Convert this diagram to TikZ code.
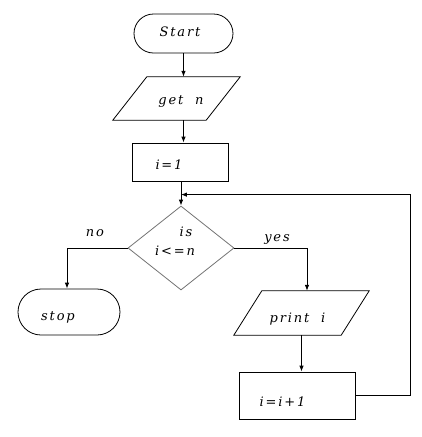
\documentclass[tikz,border=0pt]{standalone}
\usepackage{fontspec}
\usepackage{tikz}
\usetikzlibrary{calc, arrows.meta, shapes, shapes.geometric, shapes.misc, positioning}
\newfontfamily\chartfont[LetterSpace=14]{DejaVu Serif}
\tikzset{
    termnode/.style = {draw, rounded rectangle, inner sep = 1pt, node distance=0em, line width=0.8pt},
    boxnode/.style = {draw, rectangle, inner sep = 1pt, node distance=0em, line width=0.8pt},
    ionode/.style = {draw=none, rectangle, inner sep = 0em, node distance=0em},
    decnode/.style = {draw=black!55, diamond, inner sep = 1pt, node distance=0em, line width=0.8pt},
    textnode/.style  = {draw=none, fill=none, rectangle, inner sep = 0em, anchor=base,
      node distance=0em, font=\chartfont\itshape\fontsize{13}{15}\selectfont},
    connect/.style = {black, line width=0.8pt, -{Latex[length=6pt, width=4.5pt]}},
    plain/.style = {black, line width=0.8pt, line join=miter}
}
\newcommand{\slantbox}[2]{\draw [plain] ([xshift=-#2]#1.south west) -- ([xshift=#2]#1.north west)
  -- ([xshift=#2]#1.north east) -- ([xshift=-#2]#1.south east) -- cycle;}

\begin{document}
\begin{tikzpicture}
\useasboundingbox (-183.5pt,33.5pt) rectangle (237.5pt,-403.5pt);

\node [termnode, name=start, minimum width=101pt, minimum height=39pt] {\strut};
\node [ionode, name=getn, below of=start, xshift=-7pt, yshift=-65pt, minimum width=93pt, minimum height=43pt] {};
\node [boxnode, name=initi, below of=getn, xshift=3.5pt, yshift=-63.5pt, minimum width=96pt, minimum height=38pt] {\strut};
\node [decnode, name=cond, below of=initi, xshift=1pt, yshift=-86pt, minimum width=106pt, minimum height=84pt] {\strut};
\node [termnode, name=stop, below of=cond, xshift=-112pt, yshift=-64pt, minimum width=104pt, minimum height=46pt] {\strut};
\node [ionode, name=printi, below of=cond, xshift=120.5pt, yshift=-65pt, minimum width=107pt, minimum height=44pt] {};
\node [boxnode, name=incr, below of=printi, xshift=-4.5pt, yshift=-82.5pt, minimum width=116pt, minimum height=47pt] {\strut};

\slantbox{getn}{17pt}
\slantbox{printi}{14pt}

% texts
\node [textnode, name=starttext, below of=start, xshift=-3.5pt, yshift=1.5pt] {Start};
\node [textnode, name=getntext, below of=getn, xshift=4.5pt, yshift=-3.5pt] {get\ \ n};
\node [textnode, name=initext, below of=initi, xshift=-11pt, yshift=-3pt] {i=1};
\node [textnode, name=istext, below of=cond, xshift=5pt, yshift=16pt] {is};
\node [textnode, name=condtext, below of=cond, xshift=-6pt, yshift=-3pt] {i<=n};
\node [textnode, name=notext, below of=cond, xshift=-86pt, yshift=15pt] {no};
\node [textnode, name=yestext, below of=cond, xshift=96pt, yshift=9pt] {yes};
\node [textnode, name=stoptext, below of=stop, xshift=-11pt, yshift=-5pt] {stop};
\node [textnode, name=printtext, below of=printi, xshift=-4pt, yshift=-6pt] {print\ \ i};
\node [textnode, name=incrtext, below of=incr, xshift=-14.5pt, yshift=-6.5pt] {i=i+1};

\coordinate (loopin) at ($(cond.north)+(0,11pt)$);

\draw [connect] (start.south) -- (start.south |- getn.north);
\draw [connect] (getn.south -| start) -- (initi.north -| start);
\draw [connect] (initi.south -| cond) -- (cond.north);
\draw [connect] (incr.east) -- ++(55pt,0) |- (loopin);
\draw [connect] (cond.west) -| ([xshift=-2pt]stop.north);
\draw [connect] (cond.east) -| ([xshift=5.5pt]printi.north);
\draw [connect] (printi.south) -- (incr.north -| printi.south);

\end{tikzpicture}
\end{document}
